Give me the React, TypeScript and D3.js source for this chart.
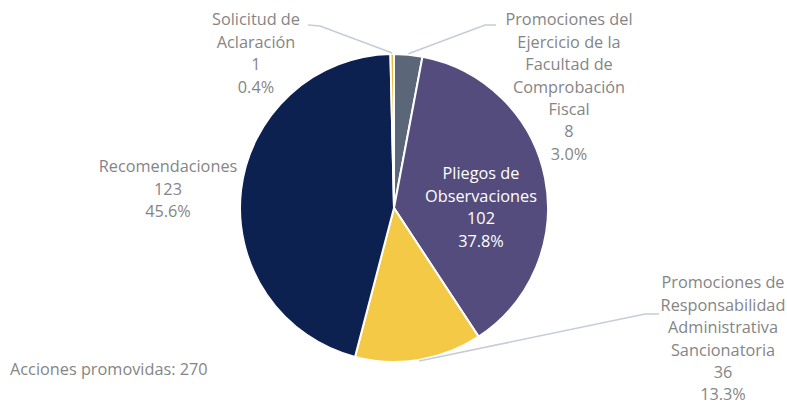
import React from "react";
import * as d3 from "d3";

const categories = [
  "Promociones del Ejercicio de la Facultad de Comprobación Fiscal",
  "Pliegos de Observaciones",
  "Promociones de Responsabilidad Administrativa Sancionatoria",
  "Recomendaciones",
  "Solicitud de Aclaración",
];
const values = [8, 102, 36, 123, 1];
const percents = ["3.0%", "37.8%", "13.3%", "45.6%", "0.4%"];
const labelLines = [
  ["Promociones del", "Ejercicio de la", "Facultad de", "Comprobación", "Fiscal"],
  ["Pliegos de", "Observaciones"],
  ["Promociones de", "Responsabilidad", "Administrativa", "Sancionatoria"],
  ["Recomendaciones"],
  ["Solicitud de", "Aclaración"],
];
const colors = ["#5b6779", "#544c7c", "#f4c945", "#0d2150", "#efb83d"];
const totalLabel = "Acciones promovidas: 270";

// layout: label anchor (center x, first line y) and leader elbows
const labelPos = [
  { x: 569, y: 20, inside: false, elbow: [[485, 25], [496, 25]] as [number, number][] },
  { x: 481, y: 174, inside: true, elbow: [] as [number, number][] },
  { x: 723, y: 283, inside: false, elbow: [[645, 314], [659, 314]] as [number, number][] },
  { x: 168, y: 167, inside: false, elbow: [] as [number, number][] },
  { x: 256, y: 20, inside: false, elbow: [[320, 26], [308, 25]] as [number, number][] },
];

const W = 787;
const H = 405;
const cx = 394;
const cy = 208;
const R = 154;
const lineH = 22.4;

export default function App() {
  const pie = d3.pie<number>().sort(null).value((d) => d)(values);
  const arc = d3.arc<d3.PieArcDatum<number>>().innerRadius(0).outerRadius(R);
  return (
    <svg
      width={W}
      height={H}
      style={{ position: "fixed", left: 0, top: 0, background: "#fff" }}
      fontFamily="'Open Sans', sans-serif"
      fontSize={16.3}
    >
      <g transform={`translate(${cx},${cy})`}>
        {pie.map((p, i) => (
          <path key={i} d={arc(p) || ""} fill={colors[i]} stroke="#fff" strokeWidth={2} />
        ))}
      </g>
      {pie.map((p, i) => {
        const lp = labelPos[i];
        if (lp.elbow.length === 0) return null;
        const mid = (p.startAngle + p.endAngle) / 2;
        const sx = cx + Math.sin(mid) * (R + 1);
        const sy = cy - Math.cos(mid) * (R + 1);
        const pts: [number, number][] = [[sx, sy], ...lp.elbow];
        return (
          <path
            key={"l" + i}
            d={d3.line()(pts) || ""}
            fill="none"
            stroke="#c6ccd8"
            strokeWidth={1.6}
          />
        );
      })}
      {labelLines.map((lines, i) => {
        const lp = labelPos[i];
        const all = [...lines, String(values[i]), percents[i]];
        return (
          <text
            key={"t" + i}
            textAnchor="middle"
            fill={lp.inside ? "#ffffff" : "#858585"}
          >
            {all.map((s, j) => (
              <tspan key={j} x={lp.x} y={lp.y + j * lineH} dy="0.33em">
                {s}
              </tspan>
            ))}
          </text>
        );
      })}
      <text x={10} y={370} dy="0.33em" fill="#858585">
        {totalLabel}
      </text>
    </svg>
  );
}
